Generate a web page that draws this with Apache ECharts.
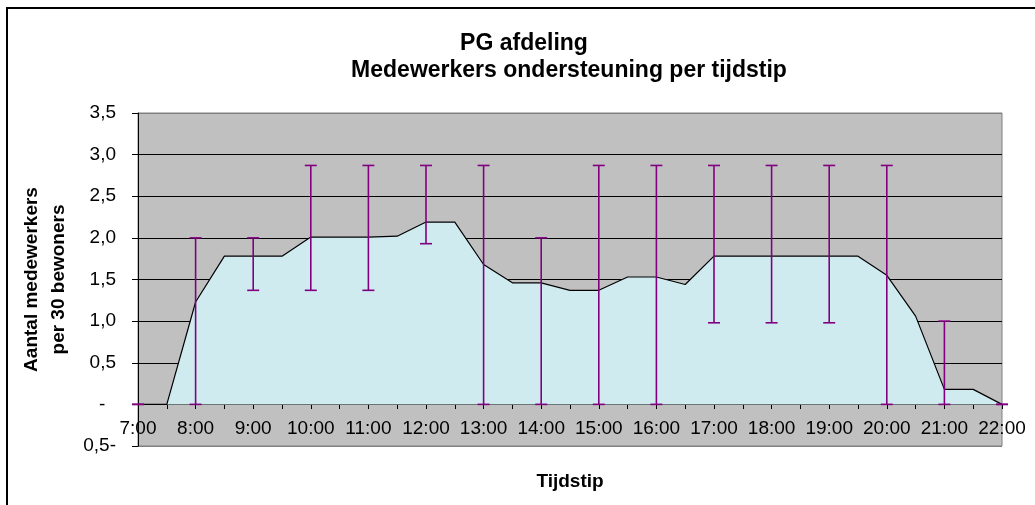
<!DOCTYPE html>
<html>
<head>
<meta charset="utf-8">
<script src="https://cdn.jsdelivr.net/npm/echarts@6/dist/echarts.min.js"></script>
<style>
html,body{margin:0;padding:0;background:#fff;}
#chart{width:1035px;height:505px;}
</style>
</head>
<body>
<div id="chart"></div>
<script>
// Categories: half-hour time points
var times = ['7:00','7:30','8:00','8:30','9:00','9:30','10:00','10:30','11:00','11:30','12:00','12:30','13:00','13:30','14:00','14:30','15:00','15:30','16:00','16:30','17:00','17:30','18:00','18:30','19:00','19:30','20:00','20:30','21:00','21:30','22:00'];
// Average staff per 30 residents
var values = [0,0,1.23,1.78,1.78,1.78,2.01,2.01,2.01,2.02,2.19,2.19,1.68,1.46,1.46,1.37,1.37,1.53,1.53,1.44,1.78,1.78,1.78,1.78,1.78,1.78,1.55,1.06,0.18,0.18,0];
// Error bar (range) per hour
var errTimes = ['7:00','8:00','9:00','10:00','11:00','12:00','13:00','14:00','15:00','16:00','17:00','18:00','19:00','20:00','21:00','22:00'];
var errLow  = [0,0,1.37,1.37,1.37,1.93,0,0,0,0,0.98,0.98,0.98,0,0,0];
var errHigh = [0,2.0,2.0,2.87,2.87,2.87,2.87,2.0,2.87,2.87,2.87,2.87,2.87,2.87,1.0,0];

var errData = errTimes.map(function(t,i){ return [t, errLow[i], errHigh[i]]; });

var FONT = '"Liberation Sans", Arial, sans-serif';
var chart = echarts.init(document.getElementById('chart'));
chart.setOption({
  animation: false,
  backgroundColor: '#fff',
  title: [
    {text: 'PG afdeling', left: 519, top: 27, textAlign: 'center',
     textStyle: {fontFamily: FONT, fontSize: 23, fontWeight: 'bold', color: '#000'}},
    {text: 'Medewerkers ondersteuning per tijdstip', left: 564, top: 54, textAlign: 'center',
     textStyle: {fontFamily: FONT, fontSize: 23, fontWeight: 'bold', color: '#000'}}
  ],
  graphic: [
    {type: 'rect', shape: {x: 7, y: 8, width: 1100, height: 600},
     style: {fill: 'none', stroke: '#000', lineWidth: 2}, silent: true, z: 100}
  ],
  grid: {
    left: 138, right: 33, top: 113, bottom: 59,
    containLabel: false,
    outerBoundsMode: 'none',
    show: true, backgroundColor: '#C0C0C0', borderColor: '#808080', borderWidth: 1
  },
  xAxis: {
    type: 'category',
    data: times,
    boundaryGap: false,
    offset: -42,
    name: 'Tijdstip',
    nameLocation: 'middle',
    nameGap: 68,
    nameTextStyle: {fontFamily: FONT, fontSize: 19, fontWeight: 'bold', color: '#000'},
    axisLine: {onZero: false, lineStyle: {color: '#000', width: 1}},
    axisTick: {show: true, interval: 0, length: 5, lineStyle: {color: '#000'}},
    axisLabel: {interval: 1, margin: 15, fontFamily: FONT, fontSize: 19, color: '#000'},
    splitLine: {show: false}
  },
  yAxis: {
    type: 'value',
    min: -0.5, max: 3.5, interval: 0.5,
    name: 'Aantal medewerkers\nper 30 bewoners',
    nameLocation: 'middle',
    nameGap: 65,
    nameTextStyle: {fontFamily: FONT, fontSize: 19, fontWeight: 'bold', color: '#000', lineHeight: 27},
    axisLine: {show: true, lineStyle: {color: '#000', width: 1}},
    axisTick: {show: true, length: 6, lineStyle: {color: '#000'}},
    axisLabel: {
      margin: 22, fontFamily: FONT, fontSize: 19, color: '#000',
      formatter: function(v){
        if (Math.abs(v) < 1e-9) return '-  ';
        if (v < 0) return Math.abs(v).toFixed(1).replace('.', ',') + '-';
        return v.toFixed(1).replace('.', ',');
      }
    },
    splitLine: {show: true, lineStyle: {color: ['#808080','#000','#000','#000','#000','#000','#000','#000','#808080'], width: 1}}
  },
  series: [
    {
      type: 'line',
      data: values,
      symbol: 'none',
      lineStyle: {color: '#000', width: 1.2},
      areaStyle: {color: '#CFEBF0', opacity: 1},
      z: 2
    },
    {
      type: 'custom',
      data: errData,
      encode: {x: 0, y: [1, 2]},
      z: 5,
      renderItem: function(params, api){
        var x = api.value(0);
        var p1 = api.coord([x, api.value(1)]);
        var p2 = api.coord([x, api.value(2)]);
        var w = 6;
        var st = {stroke: '#800080', lineWidth: 1.6};
        return {type: 'group', children: [
          {type: 'line', shape: {x1: p1[0], y1: p1[1], x2: p2[0], y2: p2[1]}, style: st},
          {type: 'line', shape: {x1: p1[0]-w, y1: p1[1], x2: p1[0]+w, y2: p1[1]}, style: st},
          {type: 'line', shape: {x1: p2[0]-w, y1: p2[1], x2: p2[0]+w, y2: p2[1]}, style: st}
        ]};
      }
    }
  ]
});
</script>
</body>
</html>
